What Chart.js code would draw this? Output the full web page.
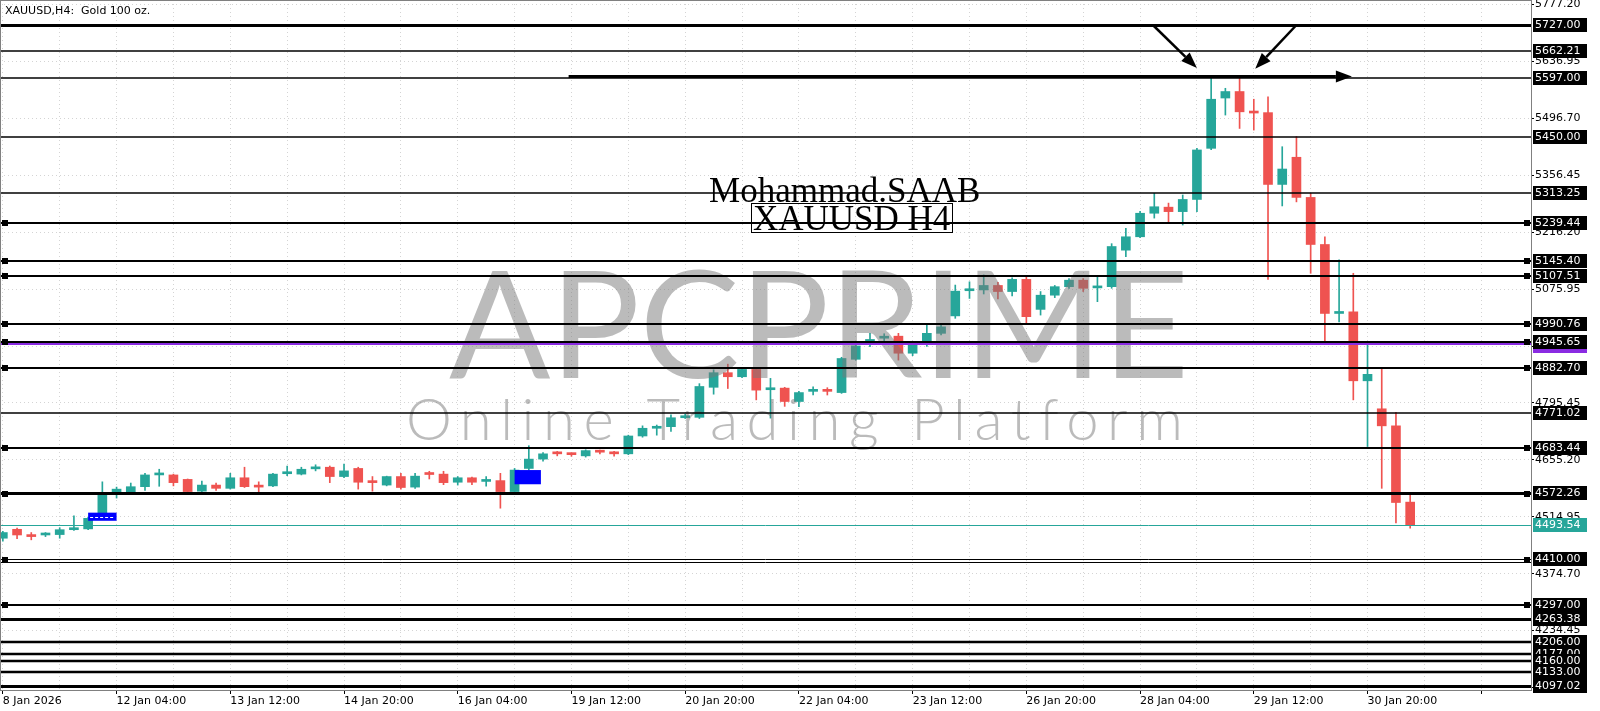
<!DOCTYPE html>
<html><head><meta charset="utf-8">
<script src="https://cdn.jsdelivr.net/npm/chart.js@4.4.1/dist/chart.umd.min.js"></script>
<style>html,body{margin:0;padding:0;background:#fff;overflow:hidden}#wrap{width:1600px;height:711px;position:relative}</style>
</head><body><div id="wrap"><canvas id="c" width="1600" height="711"></canvas></div>
<script>
// ---- DATA (H4 candles, index 0..99) ----
const opens  = [4462,4484,4468,4470,4471,4483,4485,4511,4573,4575,4589,4618,4618,4607,4578,4593,4585,4611,4590,4591,
                4621,4620,4633,4637,4614,4634,4601,4593,4614,4588,4620,4620,4600,4611,4602,4604,4577,4634,4657,4672,
                4670,4665,4677,4675,4670,4714,4733,4737,4759,4760,4834,4870,4860,4878,4828,4832,4799,4824,4826,4821,
                4903,4947,4955,4960,4918,4942,4967,5010,5072,5074,5085,5070,5100,5026,5061,5082,5098,5079,5082,5172,
                5205,5263,5278,5267,5297,5423,5547,5563,5513,5511,5334,5401,5302,5186,5016,5020,4850,4781,4739,4551];
const highs  = [4479,4487,4476,4476,4488,4517,4514,4601,4588,4598,4622,4632,4620,4608,4603,4598,4622,4637,4601,4622,
                4640,4637,4643,4640,4645,4637,4614,4615,4622,4622,4627,4627,4614,4613,4614,4622,4634,4690,4673,4676,
                4672,4680,4679,4676,4716,4739,4741,4766,4768,4843,4877,4891,4880,4881,4856,4834,4824,4835,4833,4908,
                4943,4967,4966,4967,4945,4988,4987,5086,5094,5111,5093,5104,5105,5070,5085,5102,5102,5105,5188,5226,
                5268,5312,5288,5308,5423,5597,5571,5596,5544,5550,5427,5452,5312,5205,5148,5115,4946,4883,4772,4569];
const lows   = [4455,4461,4458,4466,4462,4481,4483,4509,4561,4571,4580,4590,4591,4573,4574,4580,4583,4587,4570,4589,
                4616,4618,4628,4599,4611,4583,4578,4591,4583,4585,4608,4594,4593,4594,4590,4536,4572,4630,4652,4665,
                4664,4662,4670,4664,4668,4711,4716,4725,4757,4757,4817,4831,4858,4803,4758,4787,4786,4815,4815,4819,
                4901,4934,4948,4901,4912,4935,4963,5004,5053,5064,5052,5059,4993,5012,5055,5078,5070,5045,5078,5156,
                5203,5251,5238,5234,5267,5420,5505,5472,5468,5100,5281,5291,5115,4946,4995,4803,4688,4585,4500,4487];
const closes = [4476,4470,4466,4472,4483,4486,4511,4573,4583,4589,4618,4620,4599,4577,4593,4585,4611,4589,4588,4620,
                4623,4632,4635,4614,4628,4600,4599,4614,4587,4615,4619,4599,4611,4600,4604,4577,4630,4657,4670,4670,
                4668,4678,4674,4670,4714,4733,4735,4759,4762,4836,4870,4860,4878,4827,4830,4799,4821,4826,4824,4905,
                4936,4950,4958,4918,4942,4967,4983,5071,5075,5085,5070,5100,5008,5061,5082,5098,5078,5082,5181,5205,
                5263,5279,5267,5297,5419,5544,5563,5513,5510,5334,5372,5302,5186,5016,5019,4850,4866,4739,4550,4493.54];
const xTickIndex  = [0,8,16,24,32,40,48,56,64,72,80,88,96];
const xTickLabels = ['8 Jan 2026','12 Jan 04:00','13 Jan 12:00','14 Jan 20:00','16 Jan 04:00','19 Jan 12:00','20 Jan 20:00',
                     '22 Jan 04:00','23 Jan 12:00','26 Jan 20:00','28 Jan 04:00','29 Jan 12:00','30 Jan 20:00'];
const yTickValues = [5777.20,5636.95,5496.70,5356.45,5216.20,5075.95,4935.70,4795.45,4655.20,4514.95,4374.70,4234.45,4094.20];
const levelValues = [5727.00,5662.21,5597.00,5450.00,5313.25,5239.44,5145.40,5107.51,4990.76,4945.65,4882.70,4771.02,
                     4683.44,4572.26,4404.00,4410.00,4297.00,4263.38,4206.00,4177.00,4160.00,4133.00,4097.02];
const purpleLevel = 4940.00;
const currentPrice = 4493.54;
const titleText = 'XAUUSD,H4:  Gold 100 oz.';
const noteLines = ['Mohammad.SAAB','XAUUSD H4'];

// ---- STYLES (kept apart from data) ----
const levelWidth  = [3,1.5,1.5,1.5,1.5,2,2,2,2,2,2,1.5,2,3,1,1,2,3,2.5,2.5,2.5,2.5,3];
const levelMarker = [0,0,0,0,0,1,1,1,1,1,1,0,1,1,0,1,1,0,0,0,0,0,0];
const levelLabel  = [1,1,1,1,1,1,1,1,1,1,1,1,1,1,0,1,1,1,1,1,1,1,1];
const UP = '#26a69a', DN = '#ef5350';

const idx = opens.map((_, i) => i);
const colors = idx.map(i => closes[i] >= opens[i] ? UP : DN);

Chart.defaults.font.family = 'DejaVu Sans';
Chart.defaults.font.size = 11;
Chart.defaults.color = '#000';

const noPad = s => { s.paddingTop = 0; s.paddingBottom = 0; s.paddingLeft = 0; s.paddingRight = 0; };

const overlay = {
  id: 'overlay',
  afterDatasetsDraw(chart) {
    const {ctx, chartArea: a, scales: {x, y}} = chart;
    ctx.save();
    ctx.beginPath(); ctx.rect(a.left, a.top, a.right - a.left, a.bottom - a.top); ctx.clip();

    // watermark
    ctx.fillStyle = 'rgba(120,120,120,0.5)';
    ctx.textBaseline = 'alphabetic'; ctx.textAlign = 'left';
    ctx.font = '400 150px Lato';
    let w = ctx.measureText('APCPRIME').width;
    ctx.letterSpacing = ((740 - w) / 7) + 'px';
    ctx.fillText('APCPRIME', 449, 378);
    ctx.letterSpacing = '0px';
    ctx.fillStyle = 'rgba(120,120,120,0.5)';
    ctx.font = '300 58px Lato';
    w = ctx.measureText('Online Trading Platform').width;
    ctx.letterSpacing = ((776 - w) / 22) + 'px';
    ctx.fillText('Online Trading Platform', 406, 440);
    ctx.letterSpacing = '0px';

    // current price line
    const cy = Math.round(y.getPixelForValue(currentPrice)) + 0.5;
    ctx.strokeStyle = UP; ctx.lineWidth = 1;
    ctx.beginPath(); ctx.moveTo(a.left, cy); ctx.lineTo(a.right, cy); ctx.stroke();

    // purple line
    const pp = Math.round(y.getPixelForValue(purpleLevel));
    ctx.strokeStyle = '#8a2be2'; ctx.lineWidth = 2;
    ctx.beginPath(); ctx.moveTo(a.left, pp); ctx.lineTo(a.right, pp); ctx.stroke();

    // horizontal levels
    levelValues.forEach((v, i) => {
      let py = Math.round(y.getPixelForValue(v));
      if (levelWidth[i] % 2 === 1) py += 0.5;
      ctx.strokeStyle = '#000'; ctx.lineWidth = levelWidth[i];
      ctx.beginPath(); ctx.moveTo(a.left, py); ctx.lineTo(a.right, py); ctx.stroke();
      if (levelMarker[i]) {
        ctx.fillStyle = '#000';
        ctx.fillRect(a.left + 2, Math.round(py) - 3, 6, 6);
        ctx.fillRect(a.right - 7, Math.round(py) - 3, 6, 6);
      }
    });

    // blue rectangles
    const rect = (i0, i1, p0, p1) => {
      const x0 = x.getPixelForValue(i0), x1 = x.getPixelForValue(i1);
      const y0 = y.getPixelForValue(p0), y1 = y.getPixelForValue(p1);
      ctx.fillStyle = '#0000ff';
      ctx.fillRect(x0, y0, x1 - x0, y1 - y0);
      return [x0, x1, (y0 + y1) / 2];
    };
    const r1 = rect(6.0, 8.0, 4525, 4505);
    ctx.strokeStyle = '#fff'; ctx.lineWidth = 1; ctx.setLineDash([3, 2]);
    ctx.beginPath(); ctx.moveTo(r1[0] + 2, Math.round(r1[2]) + 0.5); ctx.lineTo(r1[1] - 2, Math.round(r1[2]) + 0.5); ctx.stroke();
    ctx.setLineDash([]);
    rect(36.0, 37.85, 4630, 4595);

    // arrows
    const arrow = (i0, p0, i1, p1, lw) => {
      const x0 = x.getPixelForValue(i0), y0 = y.getPixelForValue(p0);
      const x1 = x.getPixelForValue(i1), y1 = y.getPixelForValue(p1);
      const ang = Math.atan2(y1 - y0, x1 - x0);
      const L = 16, W = 6;
      const bx = x1 - L * Math.cos(ang), by = y1 - L * Math.sin(ang);
      ctx.strokeStyle = '#000'; ctx.lineWidth = lw;
      ctx.beginPath(); ctx.moveTo(x0, y0); ctx.lineTo(bx, by); ctx.stroke();
      ctx.fillStyle = '#000';
      ctx.beginPath(); ctx.moveTo(x1, y1);
      ctx.lineTo(bx + W * Math.sin(ang), by - W * Math.cos(ang));
      ctx.lineTo(bx - W * Math.sin(ang), by + W * Math.cos(ang));
      ctx.closePath(); ctx.fill();
    };
    arrow(39.8, 5600, 94.9, 5600, 3);
    arrow(80.9, 5727, 84.0, 5621, 2.5);
    arrow(91.0, 5727, 88.1, 5619, 2.5);

    // text notes
    ctx.fillStyle = '#000'; ctx.textAlign = 'center'; ctx.textBaseline = 'alphabetic';
    ctx.font = '35px "Liberation Serif"';
    const nx = x.getPixelForValue(59.5);
    ctx.fillText(noteLines[0], nx - 4, y.getPixelForValue(5290.7));
    const by2 = y.getPixelForValue(5222.7);
    ctx.fillText(noteLines[1], nx + 3, by2);
    const tw = ctx.measureText(noteLines[1]).width;
    ctx.strokeStyle = '#000'; ctx.lineWidth = 1;
    ctx.strokeRect(Math.round(nx + 3 - tw / 2 - 2) + 0.5, Math.round(by2 - 27) + 0.5, Math.round(tw + 4), 29);
    ctx.restore();
  },
  afterDraw(chart) {
    const {ctx, chartArea: a, scales: {y}} = chart;
    ctx.save();
    // frame
    ctx.strokeStyle = '#808080'; ctx.lineWidth = 1;
    ctx.strokeRect(a.left + 0.5, a.top + 0.5, a.right - a.left, a.bottom - a.top);
    // title
    ctx.fillStyle = '#000'; ctx.font = '11px "DejaVu Sans"'; ctx.textBaseline = 'middle'; ctx.textAlign = 'left';
    ctx.fillText(titleText, 5, 11);
    // right-axis price boxes
    const box = (v, bg, dy) => {
      const py = Math.round(y.getPixelForValue(v)) + (dy || 0);
      ctx.fillStyle = bg;
      ctx.fillRect(a.right + 2, py - 7, 54, 14);
      ctx.fillStyle = '#fff';
      ctx.fillText(v.toFixed(2), a.right + 4, py + 0.5);
    };
    box(purpleLevel, '#8a2be2', 2);
    levelValues.forEach((v, i) => { if (levelLabel[i]) box(v, '#000'); });
    box(currentPrice, UP);
    ctx.restore();
  }
};

new Chart(document.getElementById('c'), {
  type: 'bar',
  data: {
    datasets: [
      { label: 'wick', data: idx.map(i => ({x: i, y: [lows[i], highs[i]]})),
        backgroundColor: colors, barThickness: 1, grouped: false, order: 2 },
      { label: 'body', data: idx.map(i => ({x: i, y: [opens[i], closes[i]]})),
        backgroundColor: colors, barThickness: 9, minBarLength: 2, grouped: false, order: 1 }
    ]
  },
  options: {
    responsive: false, animation: false, devicePixelRatio: 1,
    layout: {padding: 0, autoPadding: false},
    plugins: {legend: {display: false}, tooltip: {enabled: false}},
    scales: {
      x: {
        type: 'linear', min: -0.2, max: 107.5, offset: false,
        grid: {offset: false, color: '#d4d4d4', lineWidth: 1, tickLength: 4,
               tickColor: c => (c.tick && c.tick.value % 8 === 0) ? '#000' : 'rgba(0,0,0,0)'},
        border: {display: true, color: '#808080', dash: [1, 3]},
        ticks: {autoSkip: false, maxRotation: 0, minRotation: 0, align: 'start', padding: 1,
                font: {size: 11, family: 'DejaVu Sans'}, color: '#000',
                callback: v => { const k = xTickIndex.indexOf(v); return k >= 0 ? xTickLabels[k] : ''; }},
        afterBuildTicks: s => { const t = []; for (let v = 0; v <= 104; v += 4) t.push({value: v}); s.ticks = t; },
        afterFit: s => { s.height = 21; noPad(s); }
      },
      y: {
        position: 'right', min: 4087.9, max: 5788.6, beginAtZero: false,
        grid: {color: '#d4d4d4', lineWidth: 1, tickLength: 3, tickColor: '#000'},
        border: {display: true, color: '#808080', dash: [1, 3]},
        ticks: {padding: 1, font: {size: 11, family: 'DejaVu Sans'}, color: '#000',
                callback: v => Number(v).toFixed(2)},
        afterBuildTicks: s => { s.ticks = yTickValues.map(v => ({value: v})); },
        afterFit: s => { s.width = 69; noPad(s); }
      }
    }
  },
  plugins: [overlay]
});
</script></body></html>
